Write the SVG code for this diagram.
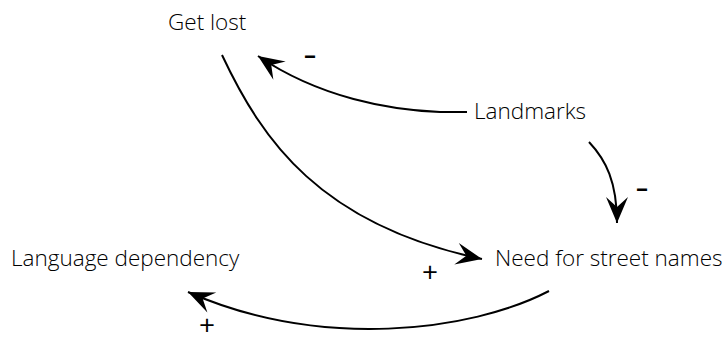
<svg xmlns="http://www.w3.org/2000/svg" width="726" height="338" viewBox="0 0 726 338">
  <style>
    .label { font-family: "Open Sans", "Liberation Sans", sans-serif; font-weight: 300; font-size: 22.5px; fill: #000; }
    .plus { font-family: "Open Sans", "Liberation Sans", sans-serif; font-weight: 400; font-size: 28px; fill: #000; text-anchor: middle; }
    .minus { font-family: "Open Sans", "Liberation Sans", sans-serif; font-weight: 700; font-size: 24px; fill: #000; text-anchor: middle; }
    .link { fill: none; stroke: #000; stroke-width: 2; }
  </style>
  <defs>
    <marker id="arrow" markerUnits="userSpaceOnUse" markerWidth="30" markerHeight="26" viewBox="-27 -13 30 26" refX="0" refY="0" orient="auto">
      <path d="M0,0 L-26,-11 L-16,0 L-26,11 Z" fill="#000"/>
    </marker>
  </defs>

  <g id="connectors">
    <path class="link" d="M222,55 C262,140 320,225 482,259" marker-end="url(#arrow)"/>
    <path class="link" d="M467,112 L440,112 C390,110 320,98 258,56" marker-end="url(#arrow)"/>
    <path class="link" d="M589,142 C606,160 617,182 617,223" marker-end="url(#arrow)"/>
    <path class="link" d="M549,291 C470,332 320,350 188,292" marker-end="url(#arrow)"/>
  </g>

  <g id="node-get-lost"><text class="label" x="168" y="30">Get lost</text></g>
  <g id="node-landmarks"><text class="label" x="474" y="119">Landmarks</text></g>
  <g id="node-need-street-names"><text class="label" x="495" y="266">Need for street names</text></g>
  <g id="node-language-dependency"><text class="label" x="11" y="266">Language dependency</text></g>

  <g id="polarity">
    <text class="minus" x="310" y="63">–</text>
    <text class="minus" x="642" y="196">–</text>
    <text class="plus" x="430" y="282">+</text>
    <text class="plus" x="207" y="335">+</text>
  </g>
</svg>
